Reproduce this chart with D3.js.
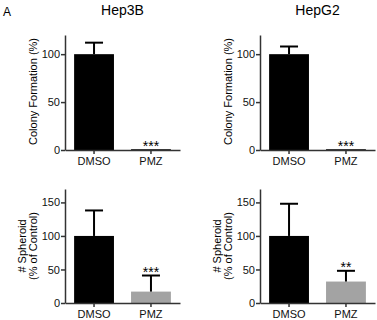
<!DOCTYPE html>
<html>
<head>
<meta charset="utf-8">
<script src="https://cdn.jsdelivr.net/npm/d3@7"></script>
<style>
  body { margin: 0; background: #fff; }
  svg { font-family: "Liberation Sans", Arial, sans-serif; }
  .axis path, .axis line { stroke: #333; stroke-width: 1.5px; }
  .axis text { font-size: 11px; fill: #111; }
</style>
</head>
<body>
<div id="chart"></div>
<script>
// Data
const groups = ["DMSO", "PMZ"];
const cellLines = ["Hep3B", "HepG2"];

const colonyMeans = [[100, 0.8], [100, 0.8]];
const colonyErrors = [[12, 0], [8, 0]];
const colonyStars = ["***", "***"];
const colonyTicks = [0, 50, 100];

const spheroidMeans = [[100, 17], [100, 32]];
const spheroidErrors = [[38, 24], [48, 16]];
const spheroidStars = ["***", "**"];
const spheroidTicks = [0, 50, 100, 150];

const barColors = { colony: ["#000", "#000"], spheroid: ["#000", "#a3a3a3"] };

const svg = d3.select("#chart")
    .append("svg")
    .attr("width", 377)
    .attr("height", 320);

// panel label
svg.append("text")
    .attr("x", 3)
    .attr("y", 16)
    .style("font-size", "12px")
    .text("A");

function drawPanel(opts) {
    const x = d3.scaleBand()
        .domain(groups)
        .range([opts.x0, opts.x0 + 115])
        .paddingInner(0.3)
        .paddingOuter(0.16);

    const y = d3.scaleLinear()
        .domain([0, opts.yMax])
        .range([opts.yBottom, opts.yTop]);

    const data = groups.map((g, i) => ({
        group: g,
        mean: opts.means[i],
        err: opts.errors[i],
        color: opts.colors[i],
        star: i === 1 ? opts.star : ""
    }));

    // bars
    svg.append("g").selectAll("rect")
        .data(data)
        .enter()
        .append("rect")
        .attr("x", d => x(d.group))
        .attr("width", x.bandwidth())
        .attr("y", d => y(d.mean))
        .attr("height", d => y(0) - y(d.mean))
        .attr("fill", d => d.color);

    // upper error bars
    const eb = svg.append("g")
        .selectAll("g")
        .data(data.filter(d => d.err > 0))
        .enter()
        .append("g")
        .attr("stroke", "#000")
        .attr("stroke-width", 2);
    eb.append("line")
        .attr("x1", d => x(d.group) + x.bandwidth() / 2)
        .attr("x2", d => x(d.group) + x.bandwidth() / 2)
        .attr("y1", d => y(d.mean))
        .attr("y2", d => y(d.mean + d.err));
    eb.append("line")
        .attr("x1", d => x(d.group) + x.bandwidth() / 2 - 9)
        .attr("x2", d => x(d.group) + x.bandwidth() / 2 + 9)
        .attr("y1", d => y(d.mean + d.err))
        .attr("y2", d => y(d.mean + d.err));

    // significance stars
    svg.append("g").selectAll("text")
        .data(data.filter(d => d.star))
        .enter()
        .append("text")
        .attr("x", d => x(d.group) + x.bandwidth() / 2)
        .attr("y", d => y(d.mean + d.err) + 1.5)
        .attr("text-anchor", "middle")
        .attr("fill", "#000")
        .style("font-size", "14px")
        .text(d => d.star);

    // axes
    svg.append("g")
        .attr("class", "axis")
        .attr("transform", `translate(0,${opts.yBottom})`)
        .call(d3.axisBottom(x).tickSize(4).tickSizeOuter(0).tickPadding(3));

    svg.append("g")
        .attr("class", "axis")
        .attr("transform", `translate(${opts.x0},0)`)
        .call(d3.axisLeft(y).tickValues(opts.ticks).tickSize(4).tickSizeOuter(0).tickPadding(1));

    // y-axis label
    const yMid = (opts.yBottom + opts.yTop) / 2 + opts.labelShift;
    opts.yLabel.forEach((line, i) => {
        svg.append("text")
            .attr("transform", `translate(${opts.labelX[i]},${yMid}) rotate(-90)`)
            .attr("text-anchor", "middle")
            .attr("dy", "0.35em")
            .style("font-size", "11px")
            .text(line);
    });

    if (opts.title) {
        svg.append("text")
            .attr("x", opts.x0 + 57.5)
            .attr("y", 15)
            .attr("text-anchor", "middle")
            .style("font-size", "14px")
            .text(opts.title);
    }
}

cellLines.forEach((cell, c) => {
    const x0 = 65 + c * 195;
    drawPanel({
        x0: x0,
        yTop: 35, yBottom: 150, yMax: 120,
        means: colonyMeans[c], errors: colonyErrors[c],
        colors: barColors.colony, star: colonyStars[c],
        ticks: colonyTicks,
        yLabel: ["Colony Formation (%)"],
        labelX: [x0 - 32], labelShift: -1,
        title: cell
    });
    drawPanel({
        x0: x0,
        yTop: 189, yBottom: 303, yMax: 170,
        means: spheroidMeans[c], errors: spheroidErrors[c],
        colors: barColors.spheroid, star: spheroidStars[c],
        ticks: spheroidTicks,
        yLabel: ["# Spheroid", "(% of Control)"],
        labelX: [x0 - 43, x0 - 32], labelShift: 0,
        title: null
    });
});
</script>
</body>
</html>
